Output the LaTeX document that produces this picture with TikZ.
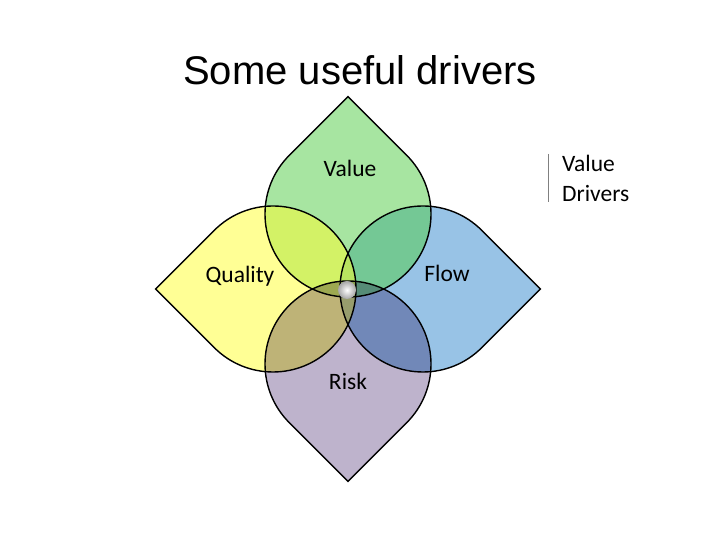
\documentclass[tikz,border=0pt]{standalone}
\usepackage{fontspec}
\setmainfont{Carlito}
\newfontfamily\titlefont{Liberation Sans}
\usetikzlibrary{calc}
\definecolor{valuecol}{RGB}{81,205,69}
\definecolor{qualitycol}{RGB}{255,255,45}
\definecolor{flowcol}{RGB}{152,195,230}
\definecolor{riskcol}{RGB}{190,179,204}
\definecolor{legendline}{RGB}{128,128,128}
\tikzset{
  petalalpha/.style={fill=#1, fill opacity=0.5},
  petalmult/.style={fill=#1, blend mode=multiply},
  petaledge/.style={draw=black, line width=1.4pt, line join=miter},
  lbl/.style={font=\fontsize{23.5}{28}\selectfont, anchor=base, inner sep=0pt},
  ttl/.style={font=\titlefont\fontsize{40}{48}\selectfont, anchor=base, inner sep=0pt},
}
\newcommand{\petalpath}[2]{% center, tip direction
  ($(#1)+({#2-45}:83)$) -- ($(#1)+(#2:{83*1.41421})$) -- ($(#1)+({#2+45}:83)$)
  arc[start angle={#2+45}, end angle={#2+315}, radius=83] -- cycle}
\begin{document}
\begin{tikzpicture}[x=1pt,y=1pt]
\useasboundingbox (0,0) rectangle (720,540);
\fill[white] (0,0) rectangle (720,540);
\coordinate (cv) at (348,326);
\coordinate (cq) at (273,251);
\coordinate (cf) at (423,251);
\coordinate (cr) at (348,176);
% fills
\path[fill=flowcol] \petalpath{cf}{0};
\path[petalalpha=valuecol] \petalpath{cv}{90};
\path[petalalpha=qualitycol] \petalpath{cq}{180};
\path[petalmult=riskcol] \petalpath{cr}{270};
% outlines
\path[petaledge] \petalpath{cv}{90};
\path[petaledge] \petalpath{cq}{180};
\path[petaledge] \petalpath{cf}{0};
\path[petaledge] \petalpath{cr}{270};
% centre sphere
\shade[inner color=white, outer color=gray!70, shading=radial] (347,250) circle[radius=9];
\node[draw=none, inner sep=0pt, minimum size=18pt, circle] (ball) at (347,250) {};
% labels
\node[ttl] (title) at (360,455) {Some useful drivers};
\node[lbl] (lvalue) at (350,363) {Value};
\node[lbl] (lquality) at (240,257) {Quality};
\node[lbl] (lflow) at (447,258) {Flow};
\node[lbl] (lrisk) at (348,150) {Risk};
% legend
\coordinate (lgtop) at (548,386);
\coordinate (lgbot) at (548,338);
\draw[legendline, line width=1pt] (lgtop) -- (lgbot);
\node[lbl, anchor=base west] (leg1) at (562,368) {Value};
\node[lbl, anchor=base west] (leg2) at (562,338) {Drivers};
\end{tikzpicture}
\end{document}
